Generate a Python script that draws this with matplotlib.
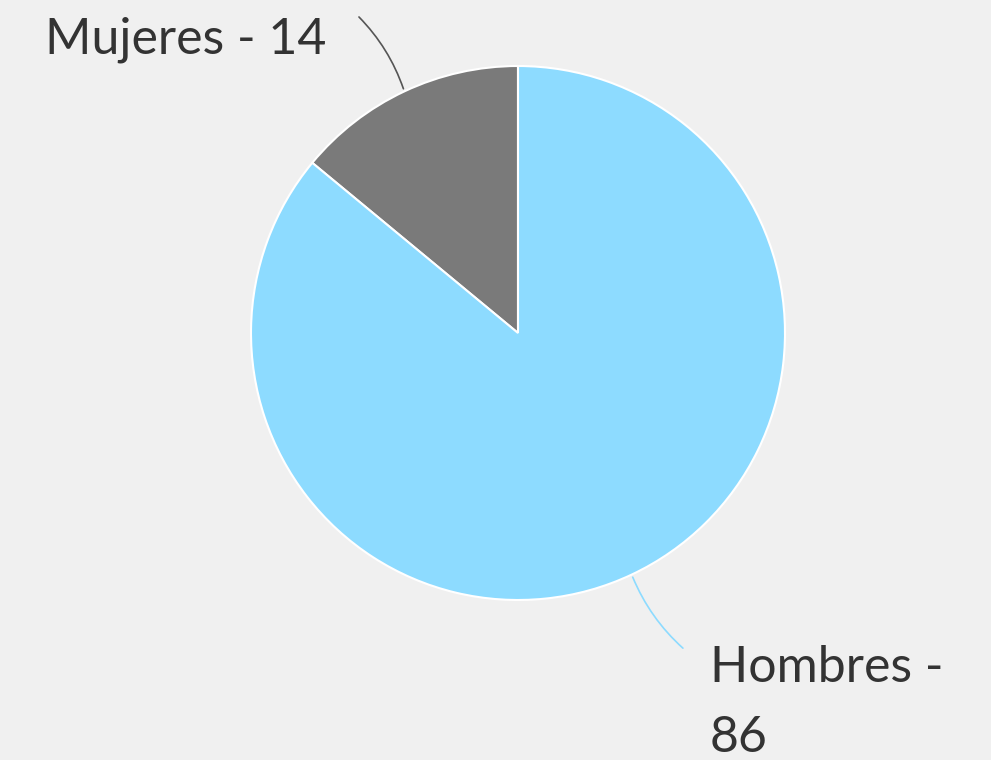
import numpy as np
import matplotlib.pyplot as plt

labels = ['Mujeres', 'Hombres']
values = [14, 86]
colors = ['#7a7a7a', '#8ddbff']

W, H = 991, 760
cx, cy, r = 518, H - 333, 267

fig = plt.figure(figsize=(W / 100, H / 100), dpi=100, facecolor='#f0f0f0')
ax = fig.add_axes([0, 0, 1, 1])
ax.set_facecolor('#f0f0f0')

wedges, _ = ax.pie(values, colors=colors, startangle=90, counterclock=True,
                   center=(cx, cy), radius=r, frame=True,
                   wedgeprops=dict(edgecolor='white', linewidth=1.5))
ax.set_xlim(0, W)
ax.set_ylim(0, H)
ax.set_aspect('equal')
ax.axis('off')

font = dict(family=['Lato', 'DejaVu Sans'], weight='normal', fontsize=36, color='#333333')

# leader lines from the middle of each wedge edge
mid = [(w.theta1 + w.theta2) / 2 for w in wedges]
p0 = [(cx + r * np.cos(np.radians(a)), cy + r * np.sin(np.radians(a))) for a in mid]

ax.annotate('', xy=p0[0], xytext=(357, H - 15),
            arrowprops=dict(arrowstyle='-', color='#555555', lw=1.2,
                            connectionstyle='arc3,rad=-0.12'))
ax.text(326, H - 40, f'{labels[0]} - {values[0]}', ha='right', va='center', **font)

ax.annotate('', xy=p0[1], xytext=(685, H - 650),
            arrowprops=dict(arrowstyle='-', color='#8ddbff', lw=1.2,
                            connectionstyle='arc3,rad=-0.12'))
ax.text(710, H - 668, f'{labels[1]} -', ha='left', va='center', **font)
ax.text(710, H - 738, f'{values[1]}', ha='left', va='center', **font)

fig.savefig('out.png', dpi=100, facecolor=fig.get_facecolor())
